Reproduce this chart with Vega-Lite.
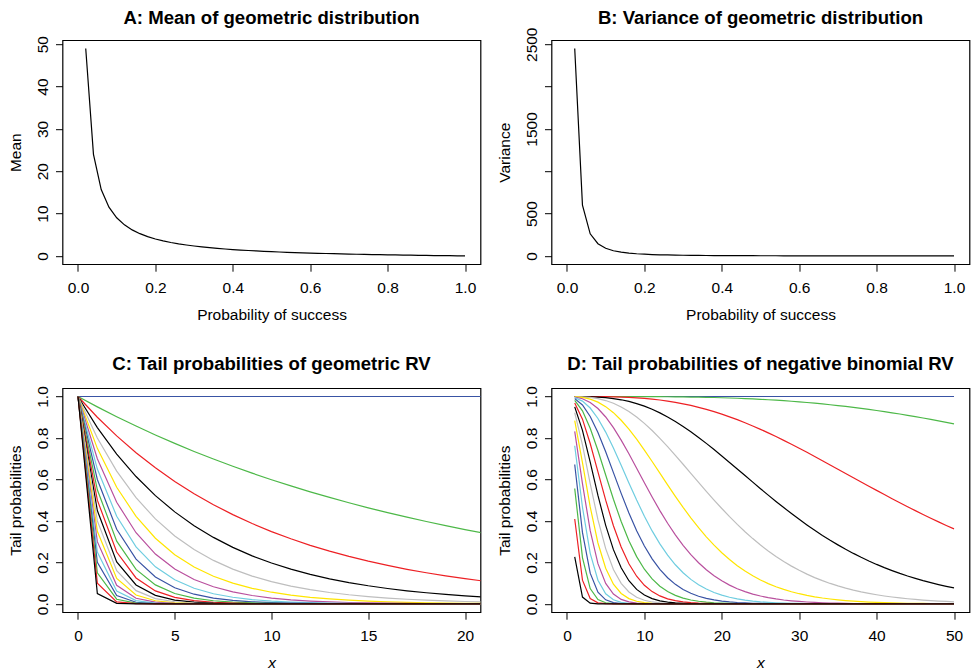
{
"$schema":"https://vega.github.io/schema/vega-lite/v6.json",
"background":"white",
"padding":{"left":7.5,"top":8.2,"right":0,"bottom":0},
"columns":2,
"bounds":"flush",
"spacing":{"row":124,"column":71},
"config":{
"font":"Liberation Sans",
"view":{"stroke":"black","strokeWidth":1.2,"fill":null},
"axis":{"domain":false,"grid":false,"tickColor":"black","tickSize":7,"tickWidth":1,"labelColor":"black","labelFontSize":15.5,"labelFont":"Liberation Sans","titleFont":"Liberation Sans","titleFontSize":15.5,"titleFontWeight":"normal","titleColor":"black","labelOverlap":false},
"axisX":{"labelPadding":9,"labelAngle":0,"titleY":55,"titleBaseline":"alphabetic"},
"axisY":{"labelAngle":-90,"labelAlign":"center","labelBaseline":"alphabetic","labelPadding":8.4,"titleX":-41.6,"titleBaseline":"alphabetic","titleAngle":-90},
"title":{"fontSize":18.6,"fontWeight":"bold","font":"Liberation Sans","color":"black","frame":"group","anchor":"middle","baseline":"alphabetic"}
},
"datasets":{
"mv":[
{"p":0.02,"m":49,"v":2450},{"p":0.04,"m":24,"v":600},{"p":0.06,"m":15.667,"v":261.11},{"p":0.08,"m":11.5,"v":143.75},{"p":0.1,"m":9,"v":90},{"p":0.12,"m":7.333,"v":61.11},{"p":0.14,"m":6.143,"v":43.88},{"p":0.16,"m":5.25,"v":32.81},{"p":0.18,"m":4.556,"v":25.31},{"p":0.2,"m":4,"v":20},{"p":0.22,"m":3.545,"v":16.12},{"p":0.24,"m":3.167,"v":13.19},{"p":0.26,"m":2.846,"v":10.95},{"p":0.28,"m":2.571,"v":9.18},{"p":0.3,"m":2.333,"v":7.78},{"p":0.32,"m":2.125,"v":6.64},{"p":0.34,"m":1.941,"v":5.71},{"p":0.36,"m":1.778,"v":4.94},{"p":0.38,"m":1.632,"v":4.29},{"p":0.4,"m":1.5,"v":3.75},{"p":0.42,"m":1.381,"v":3.29},{"p":0.44,"m":1.273,"v":2.89},{"p":0.46,"m":1.174,"v":2.55},{"p":0.48,"m":1.083,"v":2.26},{"p":0.5,"m":1,"v":2},{"p":0.52,"m":0.923,"v":1.775},{"p":0.54,"m":0.852,"v":1.578},{"p":0.56,"m":0.786,"v":1.403},{"p":0.58,"m":0.724,"v":1.249},{"p":0.6,"m":0.667,"v":1.111},{"p":0.62,"m":0.613,"v":0.989},{"p":0.64,"m":0.5625,"v":0.879},{"p":0.66,"m":0.515,"v":0.781},{"p":0.68,"m":0.471,"v":0.692},{"p":0.7,"m":0.429,"v":0.612},{"p":0.72,"m":0.389,"v":0.54},{"p":0.74,"m":0.351,"v":0.475},{"p":0.76,"m":0.316,"v":0.416},{"p":0.78,"m":0.282,"v":0.362},{"p":0.8,"m":0.25,"v":0.3125},{"p":0.82,"m":0.22,"v":0.268},{"p":0.84,"m":0.19,"v":0.227},{"p":0.86,"m":0.163,"v":0.189},{"p":0.88,"m":0.136,"v":0.155},{"p":0.9,"m":0.111,"v":0.123},{"p":0.92,"m":0.087,"v":0.0945},{"p":0.94,"m":0.064,"v":0.0679},{"p":0.96,"m":0.042,"v":0.0434},{"p":0.98,"m":0.02,"v":0.0208},{"p":1,"m":0,"v":0}
],
"geo":[
{"p":0,"x":0,"y":1},{"p":0,"x":21,"y":1},
{"p":0.05,"x":0,"y":1},{"p":0.05,"x":1,"y":0.95},{"p":0.05,"x":2,"y":0.9025},{"p":0.05,"x":3,"y":0.8574},{"p":0.05,"x":4,"y":0.8145},{"p":0.05,"x":5,"y":0.7738},{"p":0.05,"x":6,"y":0.7351},{"p":0.05,"x":7,"y":0.6983},{"p":0.05,"x":8,"y":0.6634},{"p":0.05,"x":9,"y":0.6302},{"p":0.05,"x":10,"y":0.5987},{"p":0.05,"x":11,"y":0.5688},{"p":0.05,"x":12,"y":0.5404},{"p":0.05,"x":13,"y":0.5133},{"p":0.05,"x":14,"y":0.4877},{"p":0.05,"x":15,"y":0.4633},{"p":0.05,"x":16,"y":0.4401},{"p":0.05,"x":17,"y":0.4181},{"p":0.05,"x":18,"y":0.3972},{"p":0.05,"x":19,"y":0.3774},{"p":0.05,"x":20,"y":0.3585},{"p":0.05,"x":21,"y":0.3406},
{"p":0.1,"x":0,"y":1},{"p":0.1,"x":1,"y":0.9},{"p":0.1,"x":2,"y":0.81},{"p":0.1,"x":3,"y":0.729},{"p":0.1,"x":4,"y":0.6561},{"p":0.1,"x":5,"y":0.5905},{"p":0.1,"x":6,"y":0.5314},{"p":0.1,"x":7,"y":0.4783},{"p":0.1,"x":8,"y":0.4305},{"p":0.1,"x":9,"y":0.3874},{"p":0.1,"x":10,"y":0.3487},{"p":0.1,"x":11,"y":0.3138},{"p":0.1,"x":12,"y":0.2824},{"p":0.1,"x":13,"y":0.2542},{"p":0.1,"x":14,"y":0.2288},{"p":0.1,"x":15,"y":0.2059},{"p":0.1,"x":16,"y":0.1853},{"p":0.1,"x":17,"y":0.1668},{"p":0.1,"x":18,"y":0.1501},{"p":0.1,"x":19,"y":0.1351},{"p":0.1,"x":20,"y":0.1216},{"p":0.1,"x":21,"y":0.1094},
{"p":0.15,"x":0,"y":1},{"p":0.15,"x":1,"y":0.85},{"p":0.15,"x":2,"y":0.7225},{"p":0.15,"x":3,"y":0.6141},{"p":0.15,"x":4,"y":0.522},{"p":0.15,"x":5,"y":0.4437},{"p":0.15,"x":6,"y":0.3771},{"p":0.15,"x":7,"y":0.3206},{"p":0.15,"x":8,"y":0.2725},{"p":0.15,"x":9,"y":0.2316},{"p":0.15,"x":10,"y":0.1969},{"p":0.15,"x":11,"y":0.1673},{"p":0.15,"x":12,"y":0.1422},{"p":0.15,"x":13,"y":0.1209},{"p":0.15,"x":14,"y":0.1028},{"p":0.15,"x":15,"y":0.0874},{"p":0.15,"x":16,"y":0.0743},{"p":0.15,"x":17,"y":0.0631},{"p":0.15,"x":18,"y":0.0536},{"p":0.15,"x":19,"y":0.0456},{"p":0.15,"x":20,"y":0.0388},{"p":0.15,"x":21,"y":0.0329},
{"p":0.2,"x":0,"y":1},{"p":0.2,"x":1,"y":0.8},{"p":0.2,"x":2,"y":0.64},{"p":0.2,"x":3,"y":0.512},{"p":0.2,"x":4,"y":0.4096},{"p":0.2,"x":5,"y":0.3277},{"p":0.2,"x":6,"y":0.2621},{"p":0.2,"x":7,"y":0.2097},{"p":0.2,"x":8,"y":0.1678},{"p":0.2,"x":9,"y":0.1342},{"p":0.2,"x":10,"y":0.1074},{"p":0.2,"x":11,"y":0.0859},{"p":0.2,"x":12,"y":0.0687},{"p":0.2,"x":13,"y":0.055},{"p":0.2,"x":14,"y":0.044},{"p":0.2,"x":15,"y":0.0352},{"p":0.2,"x":16,"y":0.0281},{"p":0.2,"x":17,"y":0.0225},{"p":0.2,"x":18,"y":0.018},{"p":0.2,"x":19,"y":0.0144},{"p":0.2,"x":20,"y":0.0115},{"p":0.2,"x":21,"y":0.0092},
{"p":0.25,"x":0,"y":1},{"p":0.25,"x":1,"y":0.75},{"p":0.25,"x":2,"y":0.5625},{"p":0.25,"x":3,"y":0.4219},{"p":0.25,"x":4,"y":0.3164},{"p":0.25,"x":5,"y":0.2373},{"p":0.25,"x":6,"y":0.178},{"p":0.25,"x":7,"y":0.1335},{"p":0.25,"x":8,"y":0.1001},{"p":0.25,"x":9,"y":0.0751},{"p":0.25,"x":10,"y":0.0563},{"p":0.25,"x":11,"y":0.0422},{"p":0.25,"x":12,"y":0.0317},{"p":0.25,"x":13,"y":0.0238},{"p":0.25,"x":14,"y":0.0178},{"p":0.25,"x":15,"y":0.0134},{"p":0.25,"x":16,"y":0.01},{"p":0.25,"x":17,"y":0.0075},{"p":0.25,"x":18,"y":0.0056},{"p":0.25,"x":19,"y":0.0042},{"p":0.25,"x":20,"y":0.0032},{"p":0.25,"x":21,"y":0.0024},
{"p":0.3,"x":0,"y":1},{"p":0.3,"x":1,"y":0.7},{"p":0.3,"x":2,"y":0.49},{"p":0.3,"x":3,"y":0.343},{"p":0.3,"x":4,"y":0.2401},{"p":0.3,"x":5,"y":0.1681},{"p":0.3,"x":6,"y":0.1176},{"p":0.3,"x":7,"y":0.0824},{"p":0.3,"x":8,"y":0.0576},{"p":0.3,"x":9,"y":0.0404},{"p":0.3,"x":10,"y":0.0282},{"p":0.3,"x":11,"y":0.0198},{"p":0.3,"x":12,"y":0.0138},{"p":0.3,"x":13,"y":0.0097},{"p":0.3,"x":14,"y":0.0068},{"p":0.3,"x":15,"y":0.0047},{"p":0.3,"x":16,"y":0.0033},{"p":0.3,"x":17,"y":0.0023},{"p":0.3,"x":18,"y":0.0016},{"p":0.3,"x":19,"y":0.0011},{"p":0.3,"x":20,"y":0.0008},{"p":0.3,"x":21,"y":0.0006},
{"p":0.35,"x":0,"y":1},{"p":0.35,"x":1,"y":0.65},{"p":0.35,"x":2,"y":0.4225},{"p":0.35,"x":3,"y":0.2746},{"p":0.35,"x":4,"y":0.1785},{"p":0.35,"x":5,"y":0.116},{"p":0.35,"x":6,"y":0.0754},{"p":0.35,"x":7,"y":0.049},{"p":0.35,"x":8,"y":0.0319},{"p":0.35,"x":9,"y":0.0207},{"p":0.35,"x":10,"y":0.0135},{"p":0.35,"x":11,"y":0.0088},{"p":0.35,"x":12,"y":0.0057},{"p":0.35,"x":13,"y":0.0037},{"p":0.35,"x":14,"y":0.0024},{"p":0.35,"x":15,"y":0.0016},{"p":0.35,"x":16,"y":0.001},{"p":0.35,"x":17,"y":0.0007},{"p":0.35,"x":18,"y":0.0004},{"p":0.35,"x":19,"y":0.0003},{"p":0.35,"x":20,"y":0.0002},{"p":0.35,"x":21,"y":0.0001},
{"p":0.4,"x":0,"y":1},{"p":0.4,"x":1,"y":0.6},{"p":0.4,"x":2,"y":0.36},{"p":0.4,"x":3,"y":0.216},{"p":0.4,"x":4,"y":0.1296},{"p":0.4,"x":5,"y":0.0778},{"p":0.4,"x":6,"y":0.0467},{"p":0.4,"x":7,"y":0.028},{"p":0.4,"x":8,"y":0.0168},{"p":0.4,"x":9,"y":0.0101},{"p":0.4,"x":10,"y":0.006},{"p":0.4,"x":11,"y":0.0036},{"p":0.4,"x":12,"y":0.0022},{"p":0.4,"x":13,"y":0.0013},{"p":0.4,"x":14,"y":0.0008},{"p":0.4,"x":15,"y":0.0005},{"p":0.4,"x":16,"y":0.0003},{"p":0.4,"x":17,"y":0.0002},{"p":0.4,"x":18,"y":0.0001},{"p":0.4,"x":21,"y":0},
{"p":0.45,"x":0,"y":1},{"p":0.45,"x":1,"y":0.55},{"p":0.45,"x":2,"y":0.3025},{"p":0.45,"x":3,"y":0.1664},{"p":0.45,"x":4,"y":0.0915},{"p":0.45,"x":5,"y":0.0503},{"p":0.45,"x":6,"y":0.0277},{"p":0.45,"x":7,"y":0.0152},{"p":0.45,"x":8,"y":0.0084},{"p":0.45,"x":9,"y":0.0046},{"p":0.45,"x":10,"y":0.0025},{"p":0.45,"x":11,"y":0.0014},{"p":0.45,"x":12,"y":0.0008},{"p":0.45,"x":13,"y":0.0004},{"p":0.45,"x":14,"y":0.0002},{"p":0.45,"x":15,"y":0.0001},{"p":0.45,"x":21,"y":0},
{"p":0.5,"x":0,"y":1},{"p":0.5,"x":1,"y":0.5},{"p":0.5,"x":2,"y":0.25},{"p":0.5,"x":3,"y":0.125},{"p":0.5,"x":4,"y":0.0625},{"p":0.5,"x":5,"y":0.0313},{"p":0.5,"x":6,"y":0.0156},{"p":0.5,"x":7,"y":0.0078},{"p":0.5,"x":8,"y":0.0039},{"p":0.5,"x":9,"y":0.002},{"p":0.5,"x":10,"y":0.001},{"p":0.5,"x":11,"y":0.0005},{"p":0.5,"x":12,"y":0.0002},{"p":0.5,"x":13,"y":0.0001},{"p":0.5,"x":21,"y":0},
{"p":0.55,"x":0,"y":1},{"p":0.55,"x":1,"y":0.45},{"p":0.55,"x":2,"y":0.2025},{"p":0.55,"x":3,"y":0.0911},{"p":0.55,"x":4,"y":0.041},{"p":0.55,"x":5,"y":0.0185},{"p":0.55,"x":6,"y":0.0083},{"p":0.55,"x":7,"y":0.0037},{"p":0.55,"x":8,"y":0.0017},{"p":0.55,"x":9,"y":0.0008},{"p":0.55,"x":10,"y":0.0003},{"p":0.55,"x":11,"y":0.0002},{"p":0.55,"x":12,"y":0.0001},{"p":0.55,"x":21,"y":0},
{"p":0.6,"x":0,"y":1},{"p":0.6,"x":1,"y":0.4},{"p":0.6,"x":2,"y":0.16},{"p":0.6,"x":3,"y":0.064},{"p":0.6,"x":4,"y":0.0256},{"p":0.6,"x":5,"y":0.0102},{"p":0.6,"x":6,"y":0.0041},{"p":0.6,"x":7,"y":0.0016},{"p":0.6,"x":8,"y":0.0007},{"p":0.6,"x":9,"y":0.0003},{"p":0.6,"x":10,"y":0.0001},{"p":0.6,"x":21,"y":0},
{"p":0.65,"x":0,"y":1},{"p":0.65,"x":1,"y":0.35},{"p":0.65,"x":2,"y":0.1225},{"p":0.65,"x":3,"y":0.0429},{"p":0.65,"x":4,"y":0.015},{"p":0.65,"x":5,"y":0.0053},{"p":0.65,"x":6,"y":0.0018},{"p":0.65,"x":7,"y":0.0006},{"p":0.65,"x":8,"y":0.0002},{"p":0.65,"x":9,"y":0.0001},{"p":0.65,"x":21,"y":0},
{"p":0.7,"x":0,"y":1},{"p":0.7,"x":1,"y":0.3},{"p":0.7,"x":2,"y":0.09},{"p":0.7,"x":3,"y":0.027},{"p":0.7,"x":4,"y":0.0081},{"p":0.7,"x":5,"y":0.0024},{"p":0.7,"x":6,"y":0.0007},{"p":0.7,"x":7,"y":0.0002},{"p":0.7,"x":8,"y":0.0001},{"p":0.7,"x":21,"y":0},
{"p":0.75,"x":0,"y":1},{"p":0.75,"x":1,"y":0.25},{"p":0.75,"x":2,"y":0.0625},{"p":0.75,"x":3,"y":0.0156},{"p":0.75,"x":4,"y":0.0039},{"p":0.75,"x":5,"y":0.001},{"p":0.75,"x":6,"y":0.0002},{"p":0.75,"x":7,"y":0.0001},{"p":0.75,"x":21,"y":0},
{"p":0.8,"x":0,"y":1},{"p":0.8,"x":1,"y":0.2},{"p":0.8,"x":2,"y":0.04},{"p":0.8,"x":3,"y":0.008},{"p":0.8,"x":4,"y":0.0016},{"p":0.8,"x":5,"y":0.0003},{"p":0.8,"x":6,"y":0.0001},{"p":0.8,"x":21,"y":0},
{"p":0.85,"x":0,"y":1},{"p":0.85,"x":1,"y":0.15},{"p":0.85,"x":2,"y":0.0225},{"p":0.85,"x":3,"y":0.0034},{"p":0.85,"x":4,"y":0.0005},{"p":0.85,"x":5,"y":0.0001},{"p":0.85,"x":21,"y":0},
{"p":0.9,"x":0,"y":1},{"p":0.9,"x":1,"y":0.1},{"p":0.9,"x":2,"y":0.01},{"p":0.9,"x":3,"y":0.001},{"p":0.9,"x":4,"y":0.0001},{"p":0.9,"x":21,"y":0},
{"p":0.95,"x":0,"y":1},{"p":0.95,"x":1,"y":0.05},{"p":0.95,"x":2,"y":0.0025},{"p":0.95,"x":3,"y":0.0001},{"p":0.95,"x":21,"y":0}
],
"nb":[
{"p":0,"x":1,"y":1},{"p":0,"x":50,"y":1},
{"p":0.05,"x":1,"y":1},{"p":0.05,"x":2,"y":1},{"p":0.05,"x":3,"y":1},{"p":0.05,"x":4,"y":1},{"p":0.05,"x":5,"y":1},{"p":0.05,"x":6,"y":0.9999},{"p":0.05,"x":7,"y":0.9999},{"p":0.05,"x":8,"y":0.9998},{"p":0.05,"x":9,"y":0.9997},{"p":0.05,"x":10,"y":0.9996},{"p":0.05,"x":11,"y":0.9994},{"p":0.05,"x":12,"y":0.9991},{"p":0.05,"x":13,"y":0.9988},{"p":0.05,"x":14,"y":0.9985},{"p":0.05,"x":15,"y":0.998},{"p":0.05,"x":16,"y":0.9974},{"p":0.05,"x":17,"y":0.9968},{"p":0.05,"x":18,"y":0.996},{"p":0.05,"x":19,"y":0.9951},{"p":0.05,"x":20,"y":0.994},{"p":0.05,"x":21,"y":0.9928},{"p":0.05,"x":22,"y":0.9915},{"p":0.05,"x":23,"y":0.99},{"p":0.05,"x":24,"y":0.9883},{"p":0.05,"x":25,"y":0.9864},{"p":0.05,"x":26,"y":0.9844},{"p":0.05,"x":27,"y":0.9821},{"p":0.05,"x":28,"y":0.9796},{"p":0.05,"x":29,"y":0.977},{"p":0.05,"x":30,"y":0.9741},{"p":0.05,"x":31,"y":0.971},{"p":0.05,"x":32,"y":0.9676},{"p":0.05,"x":33,"y":0.9641},{"p":0.05,"x":34,"y":0.9603},{"p":0.05,"x":35,"y":0.9562},{"p":0.05,"x":36,"y":0.952},{"p":0.05,"x":37,"y":0.9475},{"p":0.05,"x":38,"y":0.9427},{"p":0.05,"x":39,"y":0.9377},{"p":0.05,"x":40,"y":0.9325},{"p":0.05,"x":41,"y":0.9271},{"p":0.05,"x":42,"y":0.9214},{"p":0.05,"x":43,"y":0.9155},{"p":0.05,"x":44,"y":0.9093},{"p":0.05,"x":45,"y":0.903},{"p":0.05,"x":46,"y":0.8964},{"p":0.05,"x":47,"y":0.8896},{"p":0.05,"x":48,"y":0.8826},{"p":0.05,"x":49,"y":0.8754},{"p":0.05,"x":50,"y":0.868},
{"p":0.1,"x":1,"y":1},{"p":0.1,"x":2,"y":0.9999},{"p":0.1,"x":3,"y":0.9998},{"p":0.1,"x":4,"y":0.9996},{"p":0.1,"x":5,"y":0.9991},{"p":0.1,"x":6,"y":0.9984},{"p":0.1,"x":7,"y":0.9972},{"p":0.1,"x":8,"y":0.9957},{"p":0.1,"x":9,"y":0.9935},{"p":0.1,"x":10,"y":0.9908},{"p":0.1,"x":11,"y":0.9873},{"p":0.1,"x":12,"y":0.983},{"p":0.1,"x":13,"y":0.9779},{"p":0.1,"x":14,"y":0.9718},{"p":0.1,"x":15,"y":0.9648},{"p":0.1,"x":16,"y":0.9568},{"p":0.1,"x":17,"y":0.9478},{"p":0.1,"x":18,"y":0.9379},{"p":0.1,"x":19,"y":0.9269},{"p":0.1,"x":20,"y":0.9149},{"p":0.1,"x":21,"y":0.902},{"p":0.1,"x":22,"y":0.8882},{"p":0.1,"x":23,"y":0.8734},{"p":0.1,"x":24,"y":0.8579},{"p":0.1,"x":25,"y":0.8416},{"p":0.1,"x":26,"y":0.8245},{"p":0.1,"x":27,"y":0.8068},{"p":0.1,"x":28,"y":0.7885},{"p":0.1,"x":29,"y":0.7697},{"p":0.1,"x":30,"y":0.7504},{"p":0.1,"x":31,"y":0.7308},{"p":0.1,"x":32,"y":0.7108},{"p":0.1,"x":33,"y":0.6905},{"p":0.1,"x":34,"y":0.6701},{"p":0.1,"x":35,"y":0.6496},{"p":0.1,"x":36,"y":0.629},{"p":0.1,"x":37,"y":0.6084},{"p":0.1,"x":38,"y":0.5879},{"p":0.1,"x":39,"y":0.5675},{"p":0.1,"x":40,"y":0.5472},{"p":0.1,"x":41,"y":0.5271},{"p":0.1,"x":42,"y":0.5073},{"p":0.1,"x":43,"y":0.4878},{"p":0.1,"x":44,"y":0.4686},{"p":0.1,"x":45,"y":0.4497},{"p":0.1,"x":46,"y":0.4312},{"p":0.1,"x":47,"y":0.4131},{"p":0.1,"x":48,"y":0.3954},{"p":0.1,"x":49,"y":0.3782},{"p":0.1,"x":50,"y":0.3615},
{"p":0.15,"x":1,"y":0.9999},{"p":0.15,"x":2,"y":0.9996},{"p":0.15,"x":3,"y":0.9988},{"p":0.15,"x":4,"y":0.9971},{"p":0.15,"x":5,"y":0.9944},{"p":0.15,"x":6,"y":0.9901},{"p":0.15,"x":7,"y":0.9841},{"p":0.15,"x":8,"y":0.9761},{"p":0.15,"x":9,"y":0.9658},{"p":0.15,"x":10,"y":0.9533},{"p":0.15,"x":11,"y":0.9383},{"p":0.15,"x":12,"y":0.921},{"p":0.15,"x":13,"y":0.9013},{"p":0.15,"x":14,"y":0.8794},{"p":0.15,"x":15,"y":0.8556},{"p":0.15,"x":16,"y":0.8299},{"p":0.15,"x":17,"y":0.8025},{"p":0.15,"x":18,"y":0.7739},{"p":0.15,"x":19,"y":0.7441},{"p":0.15,"x":20,"y":0.7134},{"p":0.15,"x":21,"y":0.6821},{"p":0.15,"x":22,"y":0.6505},{"p":0.15,"x":23,"y":0.6187},{"p":0.15,"x":24,"y":0.587},{"p":0.15,"x":25,"y":0.5555},{"p":0.15,"x":26,"y":0.5245},{"p":0.15,"x":27,"y":0.4941},{"p":0.15,"x":28,"y":0.4644},{"p":0.15,"x":29,"y":0.4355},{"p":0.15,"x":30,"y":0.4076},{"p":0.15,"x":31,"y":0.3808},{"p":0.15,"x":32,"y":0.355},{"p":0.15,"x":33,"y":0.3303},{"p":0.15,"x":34,"y":0.3068},{"p":0.15,"x":35,"y":0.2845},{"p":0.15,"x":36,"y":0.2633},{"p":0.15,"x":37,"y":0.2434},{"p":0.15,"x":38,"y":0.2246},{"p":0.15,"x":39,"y":0.2069},{"p":0.15,"x":40,"y":0.1903},{"p":0.15,"x":41,"y":0.1748},{"p":0.15,"x":42,"y":0.1604},{"p":0.15,"x":43,"y":0.1469},{"p":0.15,"x":44,"y":0.1344},{"p":0.15,"x":45,"y":0.1229},{"p":0.15,"x":46,"y":0.1121},{"p":0.15,"x":47,"y":0.1022},{"p":0.15,"x":48,"y":0.0931},{"p":0.15,"x":49,"y":0.0847},{"p":0.15,"x":50,"y":0.0769},
{"p":0.2,"x":1,"y":0.9997},{"p":0.2,"x":2,"y":0.9984},{"p":0.2,"x":3,"y":0.9953},{"p":0.2,"x":4,"y":0.9896},{"p":0.2,"x":5,"y":0.9804},{"p":0.2,"x":6,"y":0.9672},{"p":0.2,"x":7,"y":0.9496},{"p":0.2,"x":8,"y":0.9274},{"p":0.2,"x":9,"y":0.9009},{"p":0.2,"x":10,"y":0.8702},{"p":0.2,"x":11,"y":0.8358},{"p":0.2,"x":12,"y":0.7982},{"p":0.2,"x":13,"y":0.7582},{"p":0.2,"x":14,"y":0.7164},{"p":0.2,"x":15,"y":0.6733},{"p":0.2,"x":16,"y":0.6296},{"p":0.2,"x":17,"y":0.586},{"p":0.2,"x":18,"y":0.5429},{"p":0.2,"x":19,"y":0.5007},{"p":0.2,"x":20,"y":0.4599},{"p":0.2,"x":21,"y":0.4207},{"p":0.2,"x":22,"y":0.3833},{"p":0.2,"x":23,"y":0.348},{"p":0.2,"x":24,"y":0.3149},{"p":0.2,"x":25,"y":0.2839},{"p":0.2,"x":26,"y":0.2552},{"p":0.2,"x":27,"y":0.2287},{"p":0.2,"x":28,"y":0.2044},{"p":0.2,"x":29,"y":0.1821},{"p":0.2,"x":30,"y":0.1619},{"p":0.2,"x":31,"y":0.1435},{"p":0.2,"x":32,"y":0.1269},{"p":0.2,"x":33,"y":0.112},{"p":0.2,"x":34,"y":0.0986},{"p":0.2,"x":35,"y":0.0866},{"p":0.2,"x":36,"y":0.0759},{"p":0.2,"x":37,"y":0.0664},{"p":0.2,"x":38,"y":0.058},{"p":0.2,"x":39,"y":0.0506},{"p":0.2,"x":40,"y":0.044},{"p":0.2,"x":41,"y":0.0382},{"p":0.2,"x":42,"y":0.0332},{"p":0.2,"x":43,"y":0.0287},{"p":0.2,"x":44,"y":0.0248},{"p":0.2,"x":45,"y":0.0215},{"p":0.2,"x":46,"y":0.0185},{"p":0.2,"x":47,"y":0.0159},{"p":0.2,"x":48,"y":0.0137},{"p":0.2,"x":49,"y":0.0118},{"p":0.2,"x":50,"y":0.0101},
{"p":0.25,"x":1,"y":0.999},{"p":0.25,"x":2,"y":0.9954},{"p":0.25,"x":3,"y":0.9871},{"p":0.25,"x":4,"y":0.9727},{"p":0.25,"x":5,"y":0.9511},{"p":0.25,"x":6,"y":0.9219},{"p":0.25,"x":7,"y":0.8854},{"p":0.25,"x":8,"y":0.8424},{"p":0.25,"x":9,"y":0.794},{"p":0.25,"x":10,"y":0.7415},{"p":0.25,"x":11,"y":0.6865},{"p":0.25,"x":12,"y":0.6302},{"p":0.25,"x":13,"y":0.5739},{"p":0.25,"x":14,"y":0.5187},{"p":0.25,"x":15,"y":0.4654},{"p":0.25,"x":16,"y":0.4148},{"p":0.25,"x":17,"y":0.3674},{"p":0.25,"x":18,"y":0.3235},{"p":0.25,"x":19,"y":0.2832},{"p":0.25,"x":20,"y":0.2466},{"p":0.25,"x":21,"y":0.2137},{"p":0.25,"x":22,"y":0.1844},{"p":0.25,"x":23,"y":0.1583},{"p":0.25,"x":24,"y":0.1354},{"p":0.25,"x":25,"y":0.1153},{"p":0.25,"x":26,"y":0.0979},{"p":0.25,"x":27,"y":0.0828},{"p":0.25,"x":28,"y":0.0698},{"p":0.25,"x":29,"y":0.0586},{"p":0.25,"x":30,"y":0.0491},{"p":0.25,"x":31,"y":0.041},{"p":0.25,"x":32,"y":0.0342},{"p":0.25,"x":33,"y":0.0284},{"p":0.25,"x":34,"y":0.0235},{"p":0.25,"x":35,"y":0.0194},{"p":0.25,"x":36,"y":0.016},{"p":0.25,"x":37,"y":0.0132},{"p":0.25,"x":38,"y":0.0108},{"p":0.25,"x":39,"y":0.0089},{"p":0.25,"x":40,"y":0.0073},{"p":0.25,"x":41,"y":0.0059},{"p":0.25,"x":42,"y":0.0048},{"p":0.25,"x":43,"y":0.0039},{"p":0.25,"x":44,"y":0.0032},{"p":0.25,"x":45,"y":0.0026},{"p":0.25,"x":46,"y":0.0021},{"p":0.25,"x":47,"y":0.0017},{"p":0.25,"x":48,"y":0.0014},{"p":0.25,"x":49,"y":0.0011},{"p":0.25,"x":50,"y":0.0009},
{"p":0.3,"x":1,"y":0.9976},{"p":0.3,"x":2,"y":0.9891},{"p":0.3,"x":3,"y":0.9712},{"p":0.3,"x":4,"y":0.942},{"p":0.3,"x":5,"y":0.9012},{"p":0.3,"x":6,"y":0.8497},{"p":0.3,"x":7,"y":0.7897},{"p":0.3,"x":8,"y":0.7237},{"p":0.3,"x":9,"y":0.6543},{"p":0.3,"x":10,"y":0.5842},{"p":0.3,"x":11,"y":0.5155},{"p":0.3,"x":12,"y":0.4499},{"p":0.3,"x":13,"y":0.3887},{"p":0.3,"x":14,"y":0.3327},{"p":0.3,"x":15,"y":0.2822},{"p":0.3,"x":16,"y":0.2375},{"p":0.3,"x":17,"y":0.1984},{"p":0.3,"x":18,"y":0.1645},{"p":0.3,"x":19,"y":0.1356},{"p":0.3,"x":20,"y":0.1111},{"p":0.3,"x":21,"y":0.0905},{"p":0.3,"x":22,"y":0.0733},{"p":0.3,"x":23,"y":0.0591},{"p":0.3,"x":24,"y":0.0474},{"p":0.3,"x":25,"y":0.0379},{"p":0.3,"x":26,"y":0.0302},{"p":0.3,"x":27,"y":0.0239},{"p":0.3,"x":28,"y":0.0189},{"p":0.3,"x":29,"y":0.0149},{"p":0.3,"x":30,"y":0.0117},{"p":0.3,"x":31,"y":0.0091},{"p":0.3,"x":32,"y":0.0071},{"p":0.3,"x":33,"y":0.0055},{"p":0.3,"x":34,"y":0.0043},{"p":0.3,"x":35,"y":0.0033},{"p":0.3,"x":36,"y":0.0026},{"p":0.3,"x":37,"y":0.002},{"p":0.3,"x":38,"y":0.0015},{"p":0.3,"x":39,"y":0.0012},{"p":0.3,"x":40,"y":0.0009},{"p":0.3,"x":41,"y":0.0007},{"p":0.3,"x":42,"y":0.0005},{"p":0.3,"x":43,"y":0.0004},{"p":0.3,"x":44,"y":0.0003},{"p":0.3,"x":45,"y":0.0002},{"p":0.3,"x":46,"y":0.0002},{"p":0.3,"x":47,"y":0.0001},{"p":0.3,"x":48,"y":0.0001},{"p":0.3,"x":49,"y":0.0001},{"p":0.3,"x":50,"y":0.0001},
{"p":0.35,"x":1,"y":0.9947},{"p":0.35,"x":2,"y":0.9777},{"p":0.35,"x":3,"y":0.9444},{"p":0.35,"x":4,"y":0.8939},{"p":0.35,"x":5,"y":0.8283},{"p":0.35,"x":6,"y":0.7515},{"p":0.35,"x":7,"y":0.6683},{"p":0.35,"x":8,"y":0.5833},{"p":0.35,"x":9,"y":0.5005},{"p":0.35,"x":10,"y":0.4227},{"p":0.35,"x":11,"y":0.3519},{"p":0.35,"x":12,"y":0.2892},{"p":0.35,"x":13,"y":0.2348},{"p":0.35,"x":14,"y":0.1886},{"p":0.35,"x":15,"y":0.15},{"p":0.35,"x":16,"y":0.1182},{"p":0.35,"x":17,"y":0.0924},{"p":0.35,"x":18,"y":0.0716},{"p":0.35,"x":19,"y":0.0551},{"p":0.35,"x":20,"y":0.0422},{"p":0.35,"x":21,"y":0.032},{"p":0.35,"x":22,"y":0.0242},{"p":0.35,"x":23,"y":0.0182},{"p":0.35,"x":24,"y":0.0136},{"p":0.35,"x":25,"y":0.0101},{"p":0.35,"x":26,"y":0.0075},{"p":0.35,"x":27,"y":0.0055},{"p":0.35,"x":28,"y":0.0041},{"p":0.35,"x":29,"y":0.003},{"p":0.35,"x":30,"y":0.0022},{"p":0.35,"x":31,"y":0.0016},{"p":0.35,"x":32,"y":0.0011},{"p":0.35,"x":33,"y":0.0008},{"p":0.35,"x":34,"y":0.0006},{"p":0.35,"x":35,"y":0.0004},{"p":0.35,"x":36,"y":0.0003},{"p":0.35,"x":37,"y":0.0002},{"p":0.35,"x":38,"y":0.0002},{"p":0.35,"x":39,"y":0.0001},{"p":0.35,"x":50,"y":0},
{"p":0.4,"x":1,"y":0.9898},{"p":0.4,"x":2,"y":0.959},{"p":0.4,"x":3,"y":0.9037},{"p":0.4,"x":4,"y":0.8263},{"p":0.4,"x":5,"y":0.7334},{"p":0.4,"x":6,"y":0.6331},{"p":0.4,"x":7,"y":0.5328},{"p":0.4,"x":8,"y":0.4382},{"p":0.4,"x":9,"y":0.353},{"p":0.4,"x":10,"y":0.2793},{"p":0.4,"x":11,"y":0.2173},{"p":0.4,"x":12,"y":0.1666},{"p":0.4,"x":13,"y":0.126},{"p":0.4,"x":14,"y":0.0942},{"p":0.4,"x":15,"y":0.0696},{"p":0.4,"x":16,"y":0.051},{"p":0.4,"x":17,"y":0.037},{"p":0.4,"x":18,"y":0.0266},{"p":0.4,"x":19,"y":0.019},{"p":0.4,"x":20,"y":0.0134},{"p":0.4,"x":21,"y":0.0095},{"p":0.4,"x":22,"y":0.0066},{"p":0.4,"x":23,"y":0.0046},{"p":0.4,"x":24,"y":0.0032},{"p":0.4,"x":25,"y":0.0022},{"p":0.4,"x":26,"y":0.0015},{"p":0.4,"x":27,"y":0.001},{"p":0.4,"x":28,"y":0.0007},{"p":0.4,"x":29,"y":0.0005},{"p":0.4,"x":30,"y":0.0003},{"p":0.4,"x":31,"y":0.0002},{"p":0.4,"x":32,"y":0.0001},{"p":0.4,"x":33,"y":0.0001},{"p":0.4,"x":50,"y":0},
{"p":0.45,"x":1,"y":0.9815},{"p":0.45,"x":2,"y":0.9308},{"p":0.45,"x":3,"y":0.8471},{"p":0.45,"x":4,"y":0.7396},{"p":0.45,"x":5,"y":0.6214},{"p":0.45,"x":6,"y":0.5044},{"p":0.45,"x":7,"y":0.3971},{"p":0.45,"x":8,"y":0.3044},{"p":0.45,"x":9,"y":0.2279},{"p":0.45,"x":10,"y":0.1672},{"p":0.45,"x":11,"y":0.1204},{"p":0.45,"x":12,"y":0.0853},{"p":0.45,"x":13,"y":0.0596},{"p":0.45,"x":14,"y":0.0411},{"p":0.45,"x":15,"y":0.028},{"p":0.45,"x":16,"y":0.0189},{"p":0.45,"x":17,"y":0.0126},{"p":0.45,"x":18,"y":0.0083},{"p":0.45,"x":19,"y":0.0055},{"p":0.45,"x":20,"y":0.0036},{"p":0.45,"x":21,"y":0.0023},{"p":0.45,"x":22,"y":0.0015},{"p":0.45,"x":23,"y":0.001},{"p":0.45,"x":24,"y":0.0006},{"p":0.45,"x":25,"y":0.0004},{"p":0.45,"x":26,"y":0.0002},{"p":0.45,"x":27,"y":0.0002},{"p":0.45,"x":28,"y":0.0001},{"p":0.45,"x":50,"y":0},
{"p":0.5,"x":1,"y":0.9688},{"p":0.5,"x":2,"y":0.8906},{"p":0.5,"x":3,"y":0.7734},{"p":0.5,"x":4,"y":0.6367},{"p":0.5,"x":5,"y":0.5},{"p":0.5,"x":6,"y":0.377},{"p":0.5,"x":7,"y":0.2744},{"p":0.5,"x":8,"y":0.1938},{"p":0.5,"x":9,"y":0.1334},{"p":0.5,"x":10,"y":0.0898},{"p":0.5,"x":11,"y":0.0592},{"p":0.5,"x":12,"y":0.0384},{"p":0.5,"x":13,"y":0.0245},{"p":0.5,"x":14,"y":0.0154},{"p":0.5,"x":15,"y":0.0096},{"p":0.5,"x":16,"y":0.0059},{"p":0.5,"x":17,"y":0.0036},{"p":0.5,"x":18,"y":0.0022},{"p":0.5,"x":19,"y":0.0013},{"p":0.5,"x":20,"y":0.0008},{"p":0.5,"x":21,"y":0.0005},{"p":0.5,"x":22,"y":0.0003},{"p":0.5,"x":23,"y":0.0002},{"p":0.5,"x":24,"y":0.0001},{"p":0.5,"x":50,"y":0},
{"p":0.55,"x":1,"y":0.9497},{"p":0.55,"x":2,"y":0.8364},{"p":0.55,"x":3,"y":0.6836},{"p":0.55,"x":4,"y":0.523},{"p":0.55,"x":5,"y":0.3786},{"p":0.55,"x":6,"y":0.2616},{"p":0.55,"x":7,"y":0.1738},{"p":0.55,"x":8,"y":0.1117},{"p":0.55,"x":9,"y":0.0699},{"p":0.55,"x":10,"y":0.0426},{"p":0.55,"x":11,"y":0.0255},{"p":0.55,"x":12,"y":0.0149},{"p":0.55,"x":13,"y":0.0086},{"p":0.55,"x":14,"y":0.0049},{"p":0.55,"x":15,"y":0.0028},{"p":0.55,"x":16,"y":0.0015},{"p":0.55,"x":17,"y":0.0008},{"p":0.55,"x":18,"y":0.0005},{"p":0.55,"x":19,"y":0.0002},{"p":0.55,"x":20,"y":0.0001},{"p":0.55,"x":21,"y":0.0001},{"p":0.55,"x":50,"y":0},
{"p":0.6,"x":1,"y":0.9222},{"p":0.6,"x":2,"y":0.7667},{"p":0.6,"x":3,"y":0.5801},{"p":0.6,"x":4,"y":0.4059},{"p":0.6,"x":5,"y":0.2666},{"p":0.6,"x":6,"y":0.1662},{"p":0.6,"x":7,"y":0.0994},{"p":0.6,"x":8,"y":0.0573},{"p":0.6,"x":9,"y":0.0321},{"p":0.6,"x":10,"y":0.0175},{"p":0.6,"x":11,"y":0.0093},{"p":0.6,"x":12,"y":0.0049},{"p":0.6,"x":13,"y":0.0025},{"p":0.6,"x":14,"y":0.0013},{"p":0.6,"x":15,"y":0.0006},{"p":0.6,"x":16,"y":0.0003},{"p":0.6,"x":17,"y":0.0002},{"p":0.6,"x":18,"y":0.0001},{"p":0.6,"x":50,"y":0},
{"p":0.65,"x":1,"y":0.884},{"p":0.65,"x":2,"y":0.6809},{"p":0.65,"x":3,"y":0.4677},{"p":0.65,"x":4,"y":0.2936},{"p":0.65,"x":5,"y":0.1717},{"p":0.65,"x":6,"y":0.0949},{"p":0.65,"x":7,"y":0.0501},{"p":0.65,"x":8,"y":0.0255},{"p":0.65,"x":9,"y":0.0126},{"p":0.65,"x":10,"y":0.006},{"p":0.65,"x":11,"y":0.0028},{"p":0.65,"x":12,"y":0.0013},{"p":0.65,"x":13,"y":0.0006},{"p":0.65,"x":14,"y":0.0003},{"p":0.65,"x":15,"y":0.0001},{"p":0.65,"x":50,"y":0},
{"p":0.7,"x":1,"y":0.8319},{"p":0.7,"x":2,"y":0.5798},{"p":0.7,"x":3,"y":0.3529},{"p":0.7,"x":4,"y":0.1941},{"p":0.7,"x":5,"y":0.0988},{"p":0.7,"x":6,"y":0.0473},{"p":0.7,"x":7,"y":0.0216},{"p":0.7,"x":8,"y":0.0095},{"p":0.7,"x":9,"y":0.004},{"p":0.7,"x":10,"y":0.0017},{"p":0.7,"x":11,"y":0.0007},{"p":0.7,"x":12,"y":0.0003},{"p":0.7,"x":13,"y":0.0001},{"p":0.7,"x":50,"y":0},
{"p":0.75,"x":1,"y":0.7627},{"p":0.75,"x":2,"y":0.4661},{"p":0.75,"x":3,"y":0.2436},{"p":0.75,"x":4,"y":0.1138},{"p":0.75,"x":5,"y":0.0489},{"p":0.75,"x":6,"y":0.0197},{"p":0.75,"x":7,"y":0.0076},{"p":0.75,"x":8,"y":0.0028},{"p":0.75,"x":9,"y":0.001},{"p":0.75,"x":10,"y":0.0003},{"p":0.75,"x":11,"y":0.0001},{"p":0.75,"x":50,"y":0},
{"p":0.8,"x":1,"y":0.6723},{"p":0.8,"x":2,"y":0.3446},{"p":0.8,"x":3,"y":0.148},{"p":0.8,"x":4,"y":0.0563},{"p":0.8,"x":5,"y":0.0196},{"p":0.8,"x":6,"y":0.0064},{"p":0.8,"x":7,"y":0.002},{"p":0.8,"x":8,"y":0.0006},{"p":0.8,"x":9,"y":0.0002},{"p":0.8,"x":50,"y":0},
{"p":0.85,"x":1,"y":0.5563},{"p":0.85,"x":2,"y":0.2235},{"p":0.85,"x":3,"y":0.0738},{"p":0.85,"x":4,"y":0.0213},{"p":0.85,"x":5,"y":0.0056},{"p":0.85,"x":6,"y":0.0014},{"p":0.85,"x":7,"y":0.0003},{"p":0.85,"x":8,"y":0.0001},{"p":0.85,"x":50,"y":0},
{"p":0.9,"x":1,"y":0.4095},{"p":0.9,"x":2,"y":0.1143},{"p":0.9,"x":3,"y":0.0257},{"p":0.9,"x":4,"y":0.005},{"p":0.9,"x":5,"y":0.0009},{"p":0.9,"x":6,"y":0.0001},{"p":0.9,"x":50,"y":0},
{"p":0.95,"x":1,"y":0.2262},{"p":0.95,"x":2,"y":0.0328},{"p":0.95,"x":3,"y":0.0038},{"p":0.95,"x":4,"y":0.0004},{"p":0.95,"x":50,"y":0}
]
},
"concat":[
{
"width":418,"height":224,
"title":{"text":"A: Mean of geometric distribution","offset":7.7},
"data":{"name":"mv"},
"mark":{"type":"line","color":"black","strokeWidth":1.2},
"encoding":{
"x":{"field":"p","type":"quantitative","scale":{"domain":[-0.04,1.04],"nice":false,"zero":false},"axis":{"values":[0,0.2,0.4,0.6,0.8,1],"format":".1f","title":"Probability of success"}},
"y":{"field":"m","type":"quantitative","scale":{"domain":[-1.96,50.96],"nice":false,"zero":false},"axis":{"values":[0,10,20,30,40,50],"format":"d","title":"Mean"}}
}
},
{
"width":418,"height":224,
"title":{"text":"B: Variance of geometric distribution","offset":-0.9},
"data":{"name":"mv"},
"mark":{"type":"line","color":"black","strokeWidth":1.2},
"encoding":{
"x":{"field":"p","type":"quantitative","scale":{"domain":[-0.04,1.04],"nice":false,"zero":false},"axis":{"values":[0,0.2,0.4,0.6,0.8,1],"format":".1f","title":"Probability of success"}},
"y":{"field":"v","type":"quantitative","scale":{"domain":[-98,2548],"nice":false,"zero":false},"axis":{"values":[0,500,1000,1500,2000,2500],"format":"d","labelExpr":"datum.value == 1000 || datum.value == 2000 ? '' : datum.label","title":"Variance"}}
}
},
{
"width":418,"height":224,
"title":{"text":"C: Tail probabilities of geometric RV","offset":11.7},
"data":{"name":"geo"},
"mark":{"type":"line","strokeWidth":1.2,"clip":true},
"encoding":{
"x":{"field":"x","type":"quantitative","scale":{"domain":[-0.8,20.8],"nice":false,"zero":false},"axis":{"values":[0,5,10,15,20],"title":"x","titleFontStyle":"italic"}},
"y":{"field":"y","type":"quantitative","scale":{"domain":[-0.04,1.04],"nice":false,"zero":false},"axis":{"values":[0,0.2,0.4,0.6,0.8,1],"format":".1f","title":"Tail probabilities"}},
"color":{"field":"p","type":"nominal","legend":null,"scale":{"domain":[0,0.05,0.1,0.15,0.2,0.25,0.3,0.35,0.4,0.45,0.5,0.55,0.6,0.65,0.7,0.75,0.8,0.85,0.9,0.95],"range":["#3953A4","#4DB848","#ED2024","#000000","#BEBEBE","#FFE500","#B9509E","#6FCDE0","#3953A4","#4DB848","#ED2024","#000000","#BEBEBE","#FFE500","#B9509E","#6FCDE0","#3953A4","#4DB848","#ED2024","#000000"]}}
}
},
{
"width":418,"height":224,
"title":{"text":"D: Tail probabilities of negative binomial RV","offset":11.7},
"data":{"name":"nb"},
"mark":{"type":"line","strokeWidth":1.2,"clip":true},
"encoding":{
"x":{"field":"x","type":"quantitative","scale":{"domain":[-2,52],"nice":false,"zero":false},"axis":{"values":[0,10,20,30,40,50],"title":"x","titleFontStyle":"italic"}},
"y":{"field":"y","type":"quantitative","scale":{"domain":[-0.04,1.04],"nice":false,"zero":false},"axis":{"values":[0,0.2,0.4,0.6,0.8,1],"format":".1f","title":"Tail probabilities"}},
"color":{"field":"p","type":"nominal","legend":null,"scale":{"domain":[0,0.05,0.1,0.15,0.2,0.25,0.3,0.35,0.4,0.45,0.5,0.55,0.6,0.65,0.7,0.75,0.8,0.85,0.9,0.95],"range":["#3953A4","#4DB848","#ED2024","#000000","#BEBEBE","#FFE500","#B9509E","#6FCDE0","#3953A4","#4DB848","#ED2024","#000000","#BEBEBE","#FFE500","#B9509E","#6FCDE0","#3953A4","#4DB848","#ED2024","#000000"]}}
}
}
]
}
